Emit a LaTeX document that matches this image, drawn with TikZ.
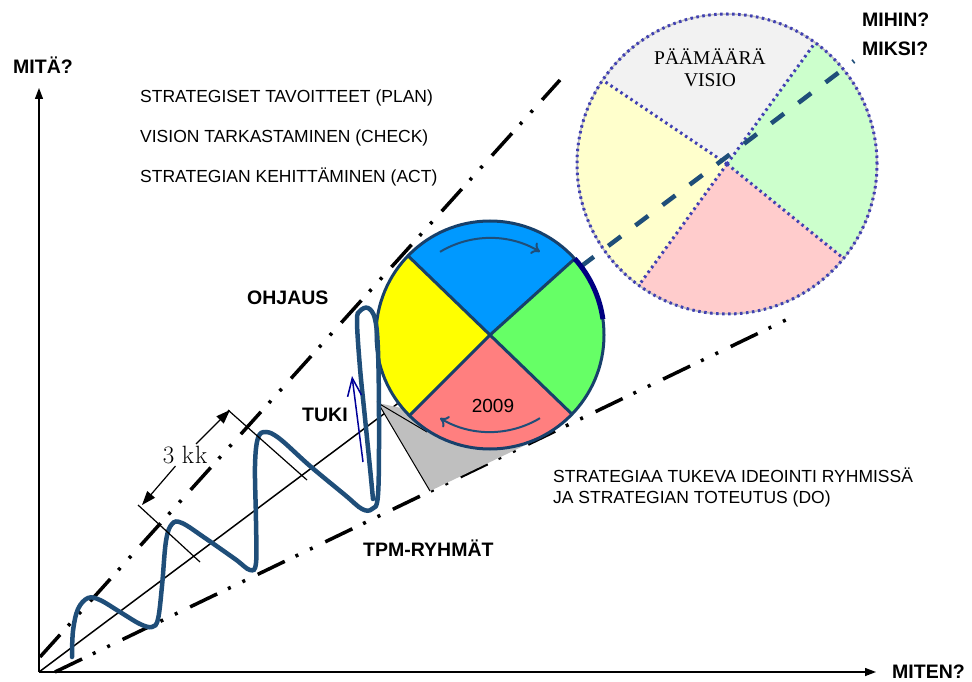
\documentclass[tikz,border=0pt]{standalone}
\usepackage{fontspec}
\setsansfont{Liberation Sans}
\newfontfamily\visiofont{Liberation Serif}
\usetikzlibrary{arrows.meta}

\definecolor{wave}{HTML}{1F4E79}
\definecolor{ring}{HTML}{17406B}
\definecolor{planblue}{HTML}{0099FF}
\definecolor{doyellow}{HTML}{FFFF00}
\definecolor{checkgreen}{HTML}{66FF66}
\definecolor{actred}{HTML}{FF7F7F}
\definecolor{visgray}{HTML}{F2F2F2}
\definecolor{visyellow}{HTML}{FFFFCC}
\definecolor{visgreen}{HTML}{CCFFCC}
\definecolor{vispink}{HTML}{FFCCCC}
\definecolor{tukiblue}{HTML}{000099}
\definecolor{rim}{HTML}{000080}

\begin{document}
\begin{tikzpicture}[x=1pt,y=1pt,font=\sffamily,
  question/.style={inner sep=0pt,anchor=base west,font=\sffamily\bfseries\fontsize{19.5}{23}\selectfont},
  phase/.style={inner sep=0pt,anchor=base west,font=\sffamily\fontsize{17.5}{21}\selectfont},
  guide/.style={line width=3.5pt,dash pattern=on 30pt off 12pt on 3pt off 13pt on 3pt off 14pt},
  axisline/.style={line width=1.3pt,-{Triangle[length=11pt,width=8pt]}},
  cyclearrow/.style={draw=wave,line width=2pt,-{To[length=8pt,width=13pt]}},
  dimarrow/.style={line width=1.2pt,-{Triangle[length=14pt,width=10pt]}},
  vissector/.style={draw=tukiblue!75,line width=3pt,dash pattern=on 2.5pt off 3.5pt}]
  \useasboundingbox (0,0) rectangle (972,681);

  \node[circle,minimum size=300pt,inner sep=0,outer sep=0] (visio) at (727,517) {};
  \node[circle,minimum size=228pt,inner sep=0,outer sep=0] (pdca) at (490,346) {};

  \foreach \a/\b/\c in {54/146/visgray,146/234/visyellow,234/321.5/vispink,321.5/414/visgreen}
    \fill[\c] (visio.center) -- ++(\a:150) arc[start angle=\a,end angle=\b,radius=150] -- cycle;
  \draw[gray!50,line width=1.5pt] (visio.center) circle[radius=150];
  \draw[vissector] (visio.center) circle[radius=150];
  \foreach \a in {54,146,234,321.5}
    \draw[vissector] (visio.center) -- (visio.\a);
  \node[align=center,font=\visiofont\fontsize{19.5}{22}\selectfont] (goal) at (710,613) {PÄÄMÄÄRÄ\\VISIO};

  \coordinate (aim) at (854,620);
  \draw[wave,line width=4.5pt,dash pattern=on 16pt off 18pt] (pdca.37) -- (aim);

  \coordinate (O) at (39,9);
  \coordinate (upstart) at (40,24);
  \coordinate (upend) at (560,601);
  \coordinate (lowstart) at (55,9);
  \coordinate (lowend) at (790,363);
  \draw[guide] (upstart) -- (upend);
  \draw[guide] (lowstart) -- (lowend);
  \draw[line width=1.5pt] (O) -- (pdca.37);

  \coordinate (g1) at (378,278);
  \coordinate (g2) at (430,190);
  \coordinate (g3) at (540,243);
  \coordinate (g4) at (427,249);
  \fill[gray!50] (g1) -- (g2) -- (g3) -- cycle;
  \draw[line width=1pt] (g4) -- (g1) -- (g2);

  \foreach \a/\b/\c in {42/136/planblue,136/225/doyellow,225/316/actred,316/402/checkgreen}
    \fill[\c] (pdca.center) -- ++(\a:114) arc[start angle=\a,end angle=\b,radius=114] -- cycle;
  \foreach \a in {42,136,225,316}
    \draw[ring,line width=3pt] (pdca.center) -- (pdca.\a);
  \draw[ring,line width=3pt] (pdca.center) circle[radius=114];
  \draw[rim,line width=5pt] (pdca.42) arc[start angle=42,end angle=8,radius=114];

  \draw[cyclearrow] ([shift={(121:97)}]pdca.center) arc[start angle=121,end angle=59,radius=97];
  \draw[cyclearrow] ([shift={(-59:97)}]pdca.center) arc[start angle=-59,end angle=-121,radius=97];
  \node[anchor=base,inner sep=0,font=\sffamily\fontsize{19}{22}\selectfont] (year) at (493,269) {2009};

  \draw[wave,line width=4.5pt,line cap=round] plot[smooth,tension=0.6] coordinates {
    (72,24) (73,50) (78,72) (88,83) (100,81) (120,69) (140,57) (152,54) (158,62)
    (162,95) (166,140) (172,157) (182,158) (205,143) (235,122) (250,111) (256,118)
    (256,160) (255,215) (258,243) (266,249) (280,242) (310,215) (345,186) (362,172)
    (372,172) (378,186) (379,260) (378,330) (375,362) (368,373) (360,370) (357,360)
    (360,313) (365,263) (370,213) (373,182)};

  \coordinate (tukifoot) at (363,219);
  \coordinate (tukitip) at (352,305);
  \draw[tukiblue,line width=1.5pt,-{Straight Barb[length=18pt,width=14pt]}] (tukifoot) -- (tukitip);

  \coordinate (d1a) at (138,176);
  \coordinate (d1b) at (200,119);
  \coordinate (d2a) at (228,271);
  \coordinate (d2b) at (307,201);
  \coordinate (dlow) at (142,176);
  \coordinate (dhigh) at (230,271);
  \draw[line width=1.2pt] (d1a) -- (d1b);
  \draw[line width=1.2pt] (d2a) -- (d2b);
  \node[font=\rmfamily\fontsize{25}{28}\selectfont,inner sep=2pt] (kk) at (185,226) {3~k\kern1pt k};
  \draw[dimarrow] (kk) -- (dlow);
  \draw[dimarrow] (kk) -- (dhigh);

  \coordinate (ytop) at (39,593);
  \coordinate (xend) at (876,9);
  \draw[axisline] (O) -- (ytop);
  \draw[axisline] (O) -- (xend);

  \node[question] (mita) at (13,607) {MITÄ?};
  \node[question] (mihin) at (862,654) {MIHIN?};
  \node[question] (miksi) at (862,625) {MIKSI?};
  \node[question] (miten) at (892,3) {MITEN?};
  \node[question] (ohjaus) at (247,376) {OHJAUS};
  \node[question] (tuki) at (302,259) {TUKI};
  \node[question] (tpm) at (363,125) {TPM-RYHMÄT};

  \node[phase] (plan) at (140,578) {STRATEGISET TAVOITTEET (PLAN)};
  \node[phase] (check) at (140,538) {VISION TARKASTAMINEN (CHECK)};
  \node[phase] (act) at (140,498) {STRATEGIAN KEHITTÄMINEN (ACT)};
  \node[phase] (do) at (553,199) {STRATEGIAA TUKEVA IDEOINTI RYHMISSÄ};
  \node[phase] (do2) at (553,178) {JA STRATEGIAN TOTEUTUS (DO)};
\end{tikzpicture}
\end{document}
